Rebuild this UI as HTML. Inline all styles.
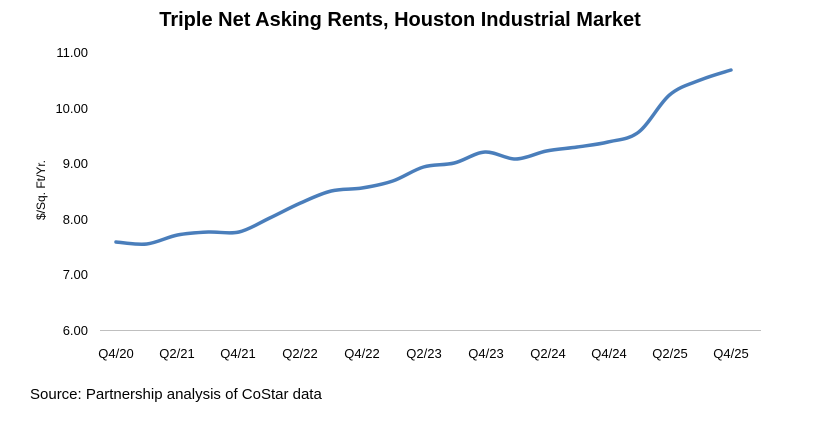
<!DOCTYPE html>
<html><head><meta charset="utf-8"><style>
body{margin:0;background:#fff;width:818px;height:420px;overflow:hidden;font-family:"Liberation Sans",Arial,sans-serif}
</style></head><body>
<svg id="s" width="818" height="420" xmlns="http://www.w3.org/2000/svg" font-family="Liberation Sans, Arial, sans-serif">
<text x="400" y="26" text-anchor="middle" font-size="20" font-weight="bold" fill="#000">Triple Net Asking Rents, Houston Industrial Market</text>
<g font-size="13" fill="#000" text-anchor="end">
<text x="88" y="57">11.00</text>
<text x="88" y="113">10.00</text>
<text x="88" y="168">9.00</text>
<text x="88" y="224">8.00</text>
<text x="88" y="279">7.00</text>
<text x="88" y="335">6.00</text>
</g>
<text transform="translate(45,190) rotate(-90)" text-anchor="middle" font-size="12" fill="#000">$/Sq. Ft/Yr.</text>
<line x1="100" y1="330.5" x2="761" y2="330.5" stroke="#bfbfbf" stroke-width="1"/>
<g font-size="13" fill="#000" text-anchor="middle">
<text x="116" y="358">Q4/20</text><text x="177" y="358">Q2/21</text><text x="238" y="358">Q4/21</text>
<text x="300" y="358">Q2/22</text><text x="362" y="358">Q4/22</text><text x="424" y="358">Q2/23</text>
<text x="486" y="358">Q4/23</text><text x="548" y="358">Q2/24</text><text x="609" y="358">Q4/24</text>
<text x="670" y="358">Q2/25</text><text x="731" y="358">Q4/25</text>
</g>
<path id="p" fill="none" stroke="#4a7ebb" stroke-width="3.5" stroke-linecap="round"/>
<text x="30" y="399" font-size="15" fill="#000">Source: Partnership analysis of CoStar data</text>
</svg>
<script>
var ys=[242,244,235,232,232,218,203,191,188,181,167,163,152,159,151,147,142,132,95,80,70];
var pts=ys.map(function(y,i){return [116+i*30.75,y];});
var d="M"+pts[0][0]+","+pts[0][1];
for(var i=0;i<pts.length-1;i++){
var p0=pts[i-1]||pts[i],p1=pts[i],p2=pts[i+1],p3=pts[i+2]||p2,t=6;
d+=" C"+(p1[0]+(p2[0]-p0[0])/t)+","+(p1[1]+(p2[1]-p0[1])/t)+" "+(p2[0]-(p3[0]-p1[0])/t)+","+(p2[1]-(p3[1]-p1[1])/t)+" "+p2[0]+","+p2[1];}
document.getElementById("p").setAttribute("d",d);
</script>
</body></html>
